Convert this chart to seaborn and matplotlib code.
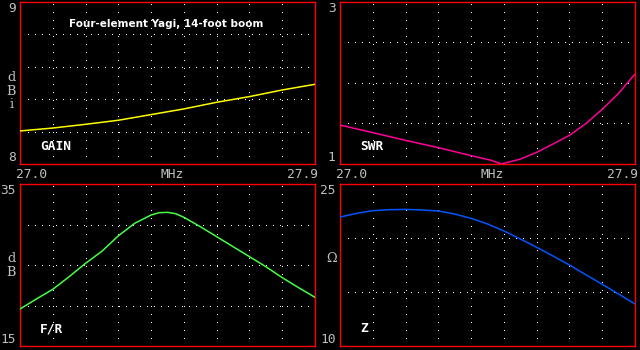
import matplotlib
matplotlib.use("Agg")
import matplotlib.pyplot as plt
import seaborn as sns
import pandas as pd
import numpy as np

# ---------------- data ----------------
freq_01 = [27.0, 27.1, 27.2, 27.3, 27.4, 27.5, 27.6, 27.7, 27.8, 27.9]
gain_dbi = [8.204, 8.222, 8.245, 8.270, 8.305, 8.340, 8.381, 8.416, 8.457, 8.492]

swr_freq = [27.0, 27.1, 27.2, 27.3, 27.4, 27.458, 27.493, 27.5, 27.55, 27.6, 27.65,
            27.7, 27.75, 27.8, 27.85, 27.9]
swr_vals = [1.481, 1.387, 1.292, 1.202, 1.103, 1.049, 1.0, 1.009, 1.06, 1.144, 1.247,
            1.354, 1.498, 1.675, 1.873, 2.111]

fr_freq = [27.00, 27.05, 27.10, 27.15, 27.20, 27.25, 27.30, 27.35, 27.40, 27.425, 27.45,
           27.475, 27.50, 27.55, 27.60, 27.65, 27.70, 27.75, 27.80, 27.85, 27.90]
fr_db = [19.57, 20.80, 22.00, 23.56, 25.21, 26.70, 28.60, 30.15, 31.17, 31.46, 31.50,
         31.33, 30.89, 29.73, 28.50, 27.26, 26.03, 24.79, 23.44, 22.20, 21.01]

z_freq = [27.00, 27.05, 27.10, 27.15, 27.20, 27.25, 27.30, 27.35, 27.40, 27.45,
          27.50, 27.55, 27.60, 27.65, 27.70, 27.75, 27.80, 27.85, 27.90]
z_ohm = [21.94, 22.28, 22.53, 22.62, 22.65, 22.59, 22.50, 22.22, 21.82, 21.30,
         20.65, 19.91, 19.14, 18.33, 17.50, 16.60, 15.71, 14.81, 13.89]

x_range = [27.0, 27.9]
x_grid = [27.1, 27.2, 27.3, 27.4, 27.5, 27.6, 27.7, 27.8]
x_tick_labels = ["27.0", "MHz", "27.9"]

panel_names = ["GAIN", "SWR", "F/R", "Z"]
y_ranges = [(8, 9), (1, 3), (15, 35), (10, 25)]
y_grids = [[8.2, 8.4, 8.6, 8.8], [1.5, 2.0, 2.5], [20, 25, 30], [15, 20]]
y_min_labels = ["8", "1", "15", "10"]
y_max_labels = ["9", "3", "35", "25"]
y_units = ["d\nB\ni", "", "d\nB", "Ω"]
title_text = "Four-element Yagi, 14-foot boom"

# ---------------- style ----------------
sns.set_theme(style="dark")
plt.rcParams["font.family"] = ["DejaVu Sans Mono", "DejaVu Sans"]
plt.rcParams["figure.facecolor"] = "black"
plt.rcParams["axes.facecolor"] = "black"

W, H = 640, 350
fig = plt.figure(figsize=(W / 100, H / 100), dpi=100)
fig.patch.set_facecolor("black")

def px_axes(x0, y0, x1, y1):
    return fig.add_axes([x0 / W, (H - y1) / H, (x1 - x0) / W, (y1 - y0) / H])

boxes = [(20, 2, 315, 164), (340, 2, 635, 164), (20, 184, 315, 346), (340, 184, 635, 346)]
frames = [
    pd.DataFrame({"MHz": freq_01, "val": gain_dbi}),
    pd.DataFrame({"MHz": swr_freq, "val": swr_vals}),
    pd.DataFrame({"MHz": fr_freq, "val": fr_db}),
    pd.DataFrame({"MHz": z_freq, "val": z_ohm}),
]
colors = ["#ffff00", "#ff0099", "#44ff44", "#0055ff"]
gray = "#c0c0c0"
fs = 9.3

for i, (box, df) in enumerate(zip(boxes, frames)):
    ax = px_axes(*box)
    ax.set_facecolor("black")
    ax.set_xlim(*x_range)
    ax.set_ylim(*y_ranges[i])
    ax.set_xticks(x_grid)
    ax.set_yticks(y_grids[i])
    ax.tick_params(length=0, labelbottom=False, labelleft=False)
    ax.grid(False)
    for xv in x_grid:
        ax.axvline(xv, color="white", lw=0.72, ls=(0, (1, 7)), antialiased=False, zorder=1)
    for yv in y_grids[i]:
        ax.axhline(yv, xmin=0.027, xmax=0.985, color="white", lw=0.72, ls=(0, (1, 6)),
                   antialiased=False, zorder=1)
    sns.lineplot(data=df, x="MHz", y="val", ax=ax, color=colors[i], linewidth=1.1, zorder=3)
    ax.set_xlabel("")
    ax.set_ylabel("")
    for s in ax.spines.values():
        s.set_color("#ff0000")
        s.set_linewidth(1.0)
        s.set_visible(True)
    # y labels
    ax.text(-0.015, 0.997, y_max_labels[i], transform=ax.transAxes, ha="right", va="top",
            color=gray, fontsize=fs)
    ax.text(-0.015, 0.0, y_min_labels[i], transform=ax.transAxes, ha="right", va="bottom",
            color=gray, fontsize=fs)
    if y_units[i]:
        uy = {0: 0.45, 2: 0.497, 3: 0.543}[i]
        ax.text(-0.029, uy, y_units[i], transform=ax.transAxes, ha="center", va="center",
                color=gray, fontsize=fs, linespacing=1.08, family=["DejaVu Serif", "DejaVu Sans"])
    # panel name
    ax.text(0.068, 0.105, panel_names[i], transform=ax.transAxes, ha="left", va="center",
            color="white", fontsize=fs, fontweight="bold")
    # x labels for top row
    if i < 2:
        for xp, lab in zip([0.039, 0.514, 0.959], x_tick_labels):
            ax.text(xp, -0.065, lab, transform=ax.transAxes, ha="center", va="center",
                    color=gray, fontsize=fs)
    if i == 0:
        ax.text(0.495, 0.864, title_text, transform=ax.transAxes, ha="center", va="center",
                color="white", fontsize=7.5, fontweight="bold", family=["DejaVu Sans"])

fig.savefig("out.png", dpi=100, facecolor="black")
